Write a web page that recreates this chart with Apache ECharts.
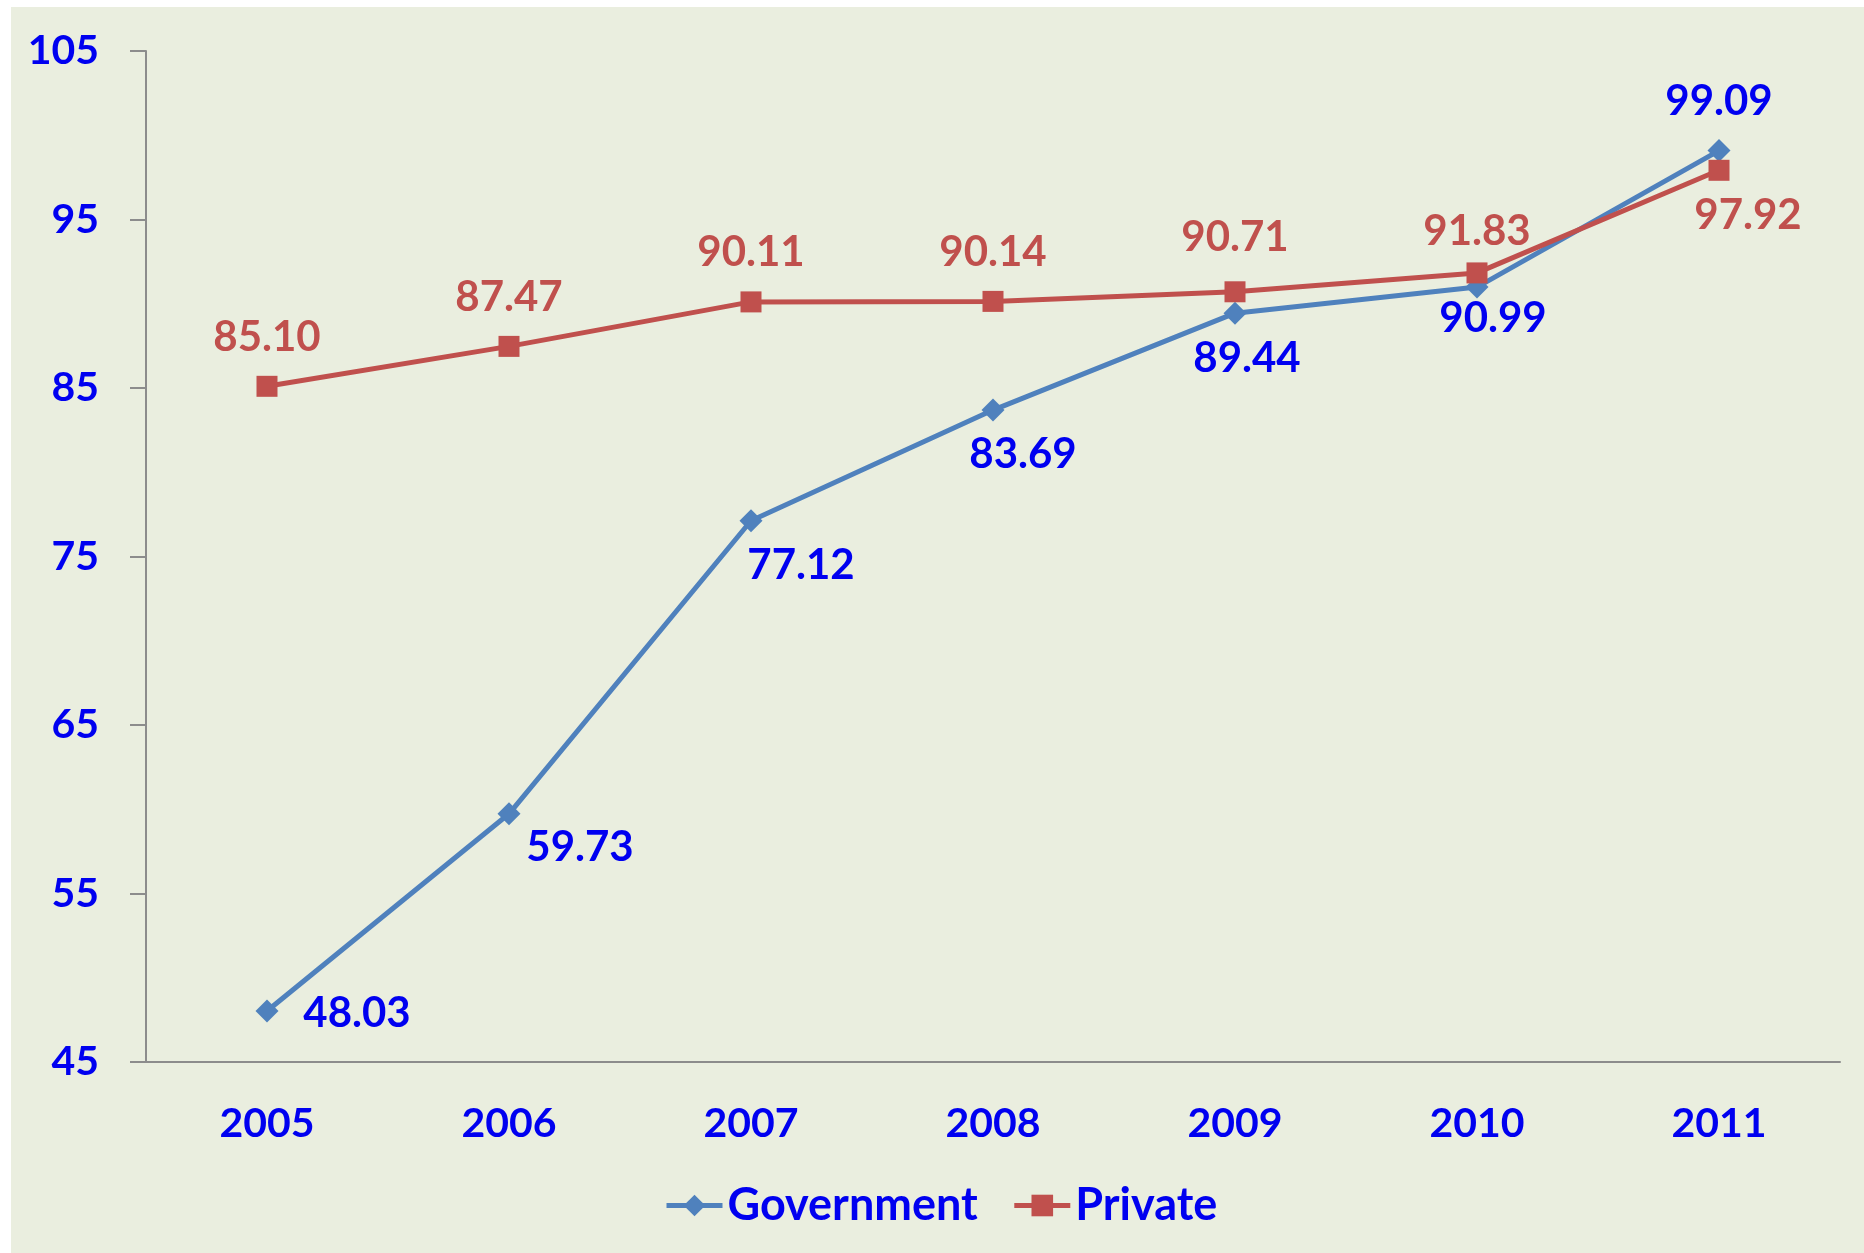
<!DOCTYPE html>
<html>
<head>
<meta charset="utf-8">
<script src="https://cdn.jsdelivr.net/npm/echarts@6/dist/echarts.min.js"></script>
<style>
    html, body { margin: 0; padding: 0; background: #fff; }
    #chart { width: 1864px; height: 1253px; }
</style>
</head>
<body>
<div id="chart"></div>
<script>
// 数据
const years = ['2005', '2006', '2007', '2008', '2009', '2010', '2011'];
const government = [48.03, 59.73, 77.12, 83.69, 89.44, 90.99, 99.09];
const privateSchools = [85.10, 87.47, 90.11, 90.14, 90.71, 91.83, 97.92];

// 标签偏移（相对于数据点中心）
const govLabelOffset = [[90, 3], [71, 34], [50, 45], [30, 44], [12, 45], [16, 31], [0, -49]];
const privLabelOffset = [[0, -49], [0, -49], [0, -49], [0, -49], [0, -54], [0, -41], [29, 45]];

const font = 'Lato';
const blue = '#0000F0';
const red = '#C0504D';

function withLabels(values, offsets, color) {
    return values.map((v, i) => ({
        value: v,
        label: {
            show: true,
            position: 'inside',
            offset: offsets[i],
            formatter: v.toFixed(2),
            color: color,
            fontFamily: font,
            fontWeight: 'bold',
            fontSize: 42
        }
    }));
}

const chart = echarts.init(document.getElementById('chart'));

chart.setOption({
    backgroundColor: '#ffffff',
    animation: false,
    graphic: [{
        type: 'rect',
        z: -10,
        shape: { x: 11, y: 7, width: 1853, height: 1246 },
        style: { fill: '#EAEEDF' }
    }],
    grid: { left: 146, right: 24, top: 51, bottom: 191 },
    legend: {
        left: 659,
        top: 1178,
        itemWidth: 56,
        itemHeight: 27,
        itemGap: 34,
        lineStyle: { width: 5 },
        textStyle: { color: blue, fontFamily: font, fontWeight: 'bold', fontSize: 45 },
        data: ['Government', 'Private']
    },
    xAxis: {
        type: 'category',
        data: years,
        boundaryGap: true,
        axisLine: { lineStyle: { color: '#8C8C8C', width: 2 } },
        axisTick: { length: 16, lineStyle: { color: '#8C8C8C', width: 2 } },
        axisLabel: { color: blue, fontFamily: font, fontWeight: 'bold', fontSize: 41, lineHeight: 44, margin: 40 }
    },
    yAxis: {
        type: 'value',
        min: 45,
        max: 105,
        interval: 10,
        splitLine: { show: false },
        axisLine: { show: true, lineStyle: { color: '#8C8C8C', width: 2 } },
        axisTick: { show: true, length: 16, lineStyle: { color: '#8C8C8C', width: 2 } },
        axisLabel: { color: blue, fontFamily: font, fontWeight: 'bold', fontSize: 41, margin: 47 }
    },
    series: [{
        name: 'Government',
        type: 'line',
        data: withLabels(government, govLabelOffset, blue),
        symbol: 'diamond',
        symbolSize: 23,
        lineStyle: { color: '#4F81BD', width: 5 },
        itemStyle: { color: '#4F81BD' }
    }, {
        name: 'Private',
        type: 'line',
        data: withLabels(privateSchools, privLabelOffset, red),
        symbol: 'rect',
        symbolSize: 21,
        lineStyle: { color: '#C0504D', width: 5 },
        itemStyle: { color: '#C0504D' }
    }]
});

window.addEventListener('resize', chart.resize);
</script>
</body>
</html>
